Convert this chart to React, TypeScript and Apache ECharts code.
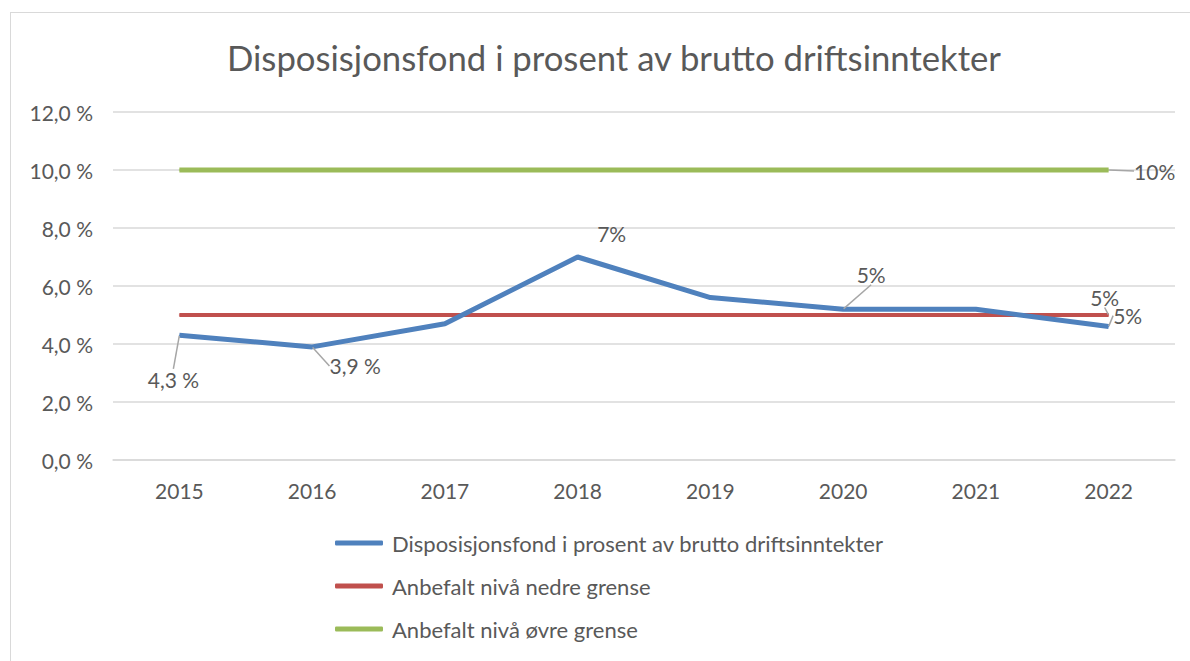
import React, { useEffect, useRef } from "react";
import * as echarts from "echarts";

const years = ["2015", "2016", "2017", "2018", "2019", "2020", "2021", "2022"];
const fondValues = [4.3, 3.9, 4.7, 7.0, 5.6, 5.2, 5.2, 4.6];
const lowerLimit = [5, 5, 5, 5, 5, 5, 5, 5];
const upperLimit = [10, 10, 10, 10, 10, 10, 10, 10];
const fondLabels = ["4,3 %", "3,9 %", "", "7%", "", "5%", "", "5%"];
const lowerLabels = ["", "", "", "", "", "", "", "5%"];
const upperLabels = ["", "", "", "", "", "", "", "10%"];
const seriesNames = [
  "Disposisjonsfond i prosent av brutto driftsinntekter",
  "Anbefalt nivå nedre grense",
  "Anbefalt nivå øvre grense",
];

const FONT = "Lato, 'Open Sans', sans-serif";
const TEXT = "#595959";

// label offsets relative to the data point (pixels)
const fondOffsets: Record<number, [number, number]> = {
  0: [-6, 44],
  1: [43, 19],
  3: [34, -24],
  5: [28, -35],
  7: [19, -11],
};
const lowerOffsets: Record<number, [number, number]> = { 7: [-4, -18] };
const upperOffsets: Record<number, [number, number]> = { 7: [46, 1] };
const noLeader = [3];

export default function App() {
  const ref = useRef<HTMLDivElement>(null);
  useEffect(() => {
    if (!ref.current) return;
    const chart = echarts.init(ref.current, undefined, { renderer: "svg" });
    const mkLayout = (vals: number[], offs: Record<number, [number, number]>) => (p: any) => {
      const o = offs[p.dataIndex];
      if (!o) return {};
      const pt = chart.convertToPixel({ gridIndex: 0 }, [p.dataIndex, vals[p.dataIndex]]) as number[];
      return { x: pt[0] + o[0], y: pt[1] + o[1], align: "center", verticalAlign: "middle" };
    };
    const mkData = (vals: number[], labels: string[], hideLeader: number[] = []) =>
      vals.map((v, i) => ({
        value: v,
        label: { show: labels[i] !== "" },
        labelLine: { show: labels[i] !== "" && !hideLeader.includes(i) },
      }));
    const labelCfg = (labels: string[]) => ({
      show: true,
      formatter: (p: any) => labels[p.dataIndex],
      color: TEXT,
      fontSize: 21,
      fontFamily: FONT,
    });
    const common = {
      type: "line",
      symbol: "circle",
      symbolSize: 1,
      showSymbol: true,
      labelLine: { show: true, lineStyle: { color: "#a6a6a6", width: 1.5 } },
    };
    chart.setOption({
      animation: false,
      backgroundColor: "#ffffff",
      textStyle: { fontFamily: FONT },
      title: {
        text: "Disposisjonsfond i prosent av brutto driftsinntekter",
        left: 222,
        top: 35,
        textStyle: { color: TEXT, fontSize: 34.7, fontWeight: "normal", fontFamily: FONT },
      },
      graphic: [
        { type: "line", shape: { x1: 10, y1: 12.5, x2: 1190, y2: 12.5 }, style: { stroke: "#d9d9d9", lineWidth: 1 } },
        { type: "line", shape: { x1: 10.5, y1: 12, x2: 10.5, y2: 661 }, style: { stroke: "#d9d9d9", lineWidth: 1 } },
      ],
      grid: { left: 113, right: 15, top: 112, bottom: 201, containLabel: false },
      legend: {
        orient: "vertical",
        left: 330,
        top: 527,
        itemWidth: 48,
        itemHeight: 5,
        itemGap: 21,
        icon: "roundRect",
        data: seriesNames,
        itemStyle: { borderWidth: 0 },
        textStyle: { color: TEXT, fontSize: 22, fontFamily: FONT, padding: [0, 0, 0, 4] },
      },
      xAxis: {
        type: "category",
        data: years,
        boundaryGap: true,
        axisLine: { show: true, lineStyle: { color: "#d9d9d9", width: 1.5 } },
        axisTick: { show: false },
        axisLabel: { color: TEXT, fontSize: 21, fontFamily: FONT, margin: 20 },
      },
      yAxis: {
        type: "value",
        min: 0,
        max: 12,
        interval: 2,
        axisLine: { show: false },
        axisTick: { show: false },
        splitLine: { lineStyle: { color: "#d9d9d9", width: 1.5 } },
        axisLabel: {
          color: TEXT,
          fontSize: 21,
          fontFamily: FONT,
          margin: 20,
          formatter: (v: number) => v.toFixed(1).replace(".", ",") + " %",
        },
      },
      series: [
        {
          ...common,
          name: seriesNames[0],
          data: mkData(fondValues, fondLabels, noLeader),
          z: 3,
          lineStyle: { color: "#4f81bd", width: 5 },
          itemStyle: { color: "#4f81bd", borderWidth: 0 },
          label: labelCfg(fondLabels),
          labelLayout: mkLayout(fondValues, fondOffsets),
        },
        {
          ...common,
          name: seriesNames[1],
          data: mkData(lowerLimit, lowerLabels),
          z: 2,
          lineStyle: { color: "#c0504d", width: 4 },
          itemStyle: { color: "#c0504d", borderWidth: 0 },
          label: labelCfg(lowerLabels),
          labelLayout: mkLayout(lowerLimit, lowerOffsets),
        },
        {
          ...common,
          name: seriesNames[2],
          data: mkData(upperLimit, upperLabels),
          z: 2,
          lineStyle: { color: "#9bbb59", width: 5 },
          itemStyle: { color: "#9bbb59", borderWidth: 0 },
          label: labelCfg(upperLabels),
          labelLayout: mkLayout(upperLimit, upperOffsets),
        },
      ],
    });
    return () => chart.dispose();
  }, []);
  return <div ref={ref} style={{ position: "absolute", left: 0, top: 0, width: 1190, height: 661 }} />;
}
